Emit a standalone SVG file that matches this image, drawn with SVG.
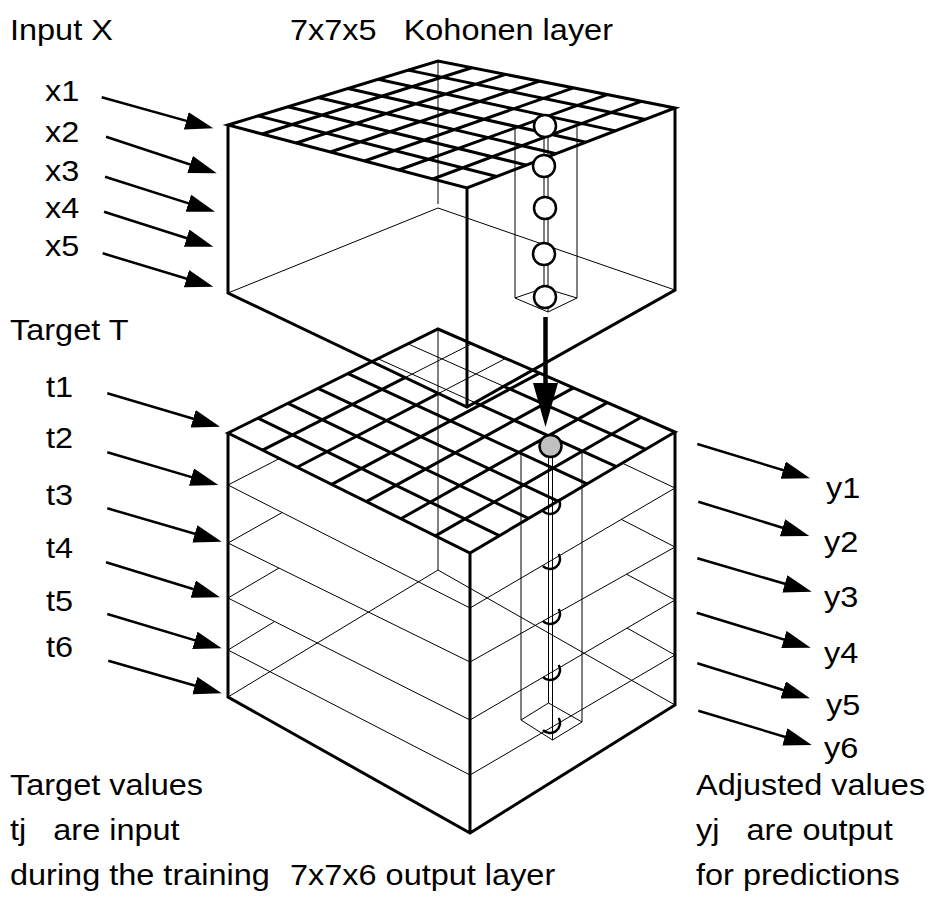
<svg xmlns="http://www.w3.org/2000/svg" width="936" height="914" viewBox="0 0 936 914">
<style>
.thick{fill:none;stroke:#000;stroke-width:3}
.thin{fill:none;stroke:#000;stroke-width:1}
.arr{fill:none;stroke:#000;stroke-width:2.5;marker-end:url(#ah)}
.neuron{fill:#fff;stroke:#000;stroke-width:2.5}
.win{fill:#c0c0c0;stroke:#000;stroke-width:2.5}
.arc{fill:none;stroke:#000;stroke-width:2.5}
text{font-family:"Liberation Sans",Arial,sans-serif;font-size:29px;fill:#000;white-space:pre}
</style>
<defs>
<marker id="ah" markerUnits="userSpaceOnUse" viewBox="0 0 30 20" markerWidth="30" markerHeight="20" refX="16" refY="9" orient="auto">
<path d="M0,0 L28,9 L0,18 Z" fill="#000"/>
</marker>
<clipPath id="front"><path d="M0,293 L228,293 L467,407 L675,290 L936,290 L936,914 L0,914 Z"/></clipPath>
<path id="gbot" d="M258,418.14 L499.29,535.71 M288,403.29 L528.57,518.43 M318,388.43 L557.86,501.14 M348,373.57 L587.14,483.86 M378,358.71 L616.43,466.57 M408,343.86 L645.71,449.29 M262.57,450.14 L471.86,343.71 M297.14,467.29 L505.71,358.43 M331.71,484.43 L539.57,373.14 M366.29,501.57 L573.43,387.86 M400.86,518.71 L607.29,402.57 M435.43,535.86 L641.14,417.29"/>
</defs>
<rect width="936" height="914" fill="#fff"/>

<g id="output-layer">
<path class="thin" d="M438,329 V570 M228,697 L438,570 L675,705"/>
<path class="thin" d="M279.5,458.5 L228,485 L470,608 L675,488 L622,463"/>
<path class="thin" d="M282,512.6 L228,543 L470,662 L675,547 L621.4,519.4"/>
<path class="thin" d="M279,568 L228,598 L470,720 L675,600 L626.5,574.2"/>
<path class="thin" d="M274.7,621.5 L228,650 L470,775 L675,655 L627,628"/>
<use href="#gbot" class="thin"/>
<use href="#gbot" class="thick" clip-path="url(#front)"/>
<path class="thick" d="M228,433 L438,329 L675,432 L470,553 Z M228,433 V697 L470,833 L675,705 V432 M470,553 V833"/>
<path class="thin" d="M521,452 V720 M582,450 V722 M548.5,457 V703 M552.5,457 V740 M521,720 L548.5,703 L582,722 L552.5,740 Z"/>
<path class="arc" d="M558.66,499 A10,10 0 0 1 542.93,511.07 M558.66,554 A10,10 0 0 1 542.93,566.07 M558.66,609 A10,10 0 0 1 542.93,621.07 M558.66,665 A10,10 0 0 1 542.93,677.07 M558.66,718 A10,10 0 0 1 542.93,730.07"/>
<circle class="win" cx="550.5" cy="446" r="11"/>
</g>

<g id="kohonen-layer">
<path class="thin" d="M438,61 V204 M228,293 L438,208 L675,290"/>
<path class="thick" d="M258,115.86 L496.71,176.57 M288,106.71 L526.43,165.14 M318,97.57 L556.14,153.71 M348,88.43 L585.86,142.29 M378,79.29 L615.57,130.86 M408,70.14 L645.29,119.43 M262.14,134 L471.86,67.71 M296.29,143 L505.71,74.43 M330.43,152 L539.57,81.14 M364.57,161 L573.43,87.86 M398.71,170 L607.29,94.57 M432.86,179 L641.14,101.29"/>
<path class="thick" d="M228,125 L438,61 L675,108 L467,188 Z M228,125 V293 L467,407 L675,290 V108 M467,188 V407"/>
<path class="thin" d="M515,128 V298 M577,127 V298 M544,137 V288 M548,137 V312 M515,298 L544,288 L577,298 L548,312 Z"/>
<circle class="neuron" cx="545" cy="126" r="11"/>
<circle class="neuron" cx="544" cy="166" r="11"/>
<circle class="neuron" cx="545" cy="208" r="11"/>
<circle class="neuron" cx="544" cy="254" r="11"/>
<circle class="neuron" cx="545" cy="297" r="11"/>
</g>

<g id="connectors">
<path class="arr" d="M101.7,97.3 L201.7,125.1"/>
<path class="arr" d="M106,136.7 L205.3,169.5"/>
<path class="arr" d="M105,176.7 L203.6,208.1"/>
<path class="arr" d="M104,211.7 L201.9,243"/>
<path class="arr" d="M102.7,253.3 L201.8,283.2"/>
<path class="arr" d="M107.3,393.3 L208.5,423.3"/>
<path class="arr" d="M107.3,452.3 L206.8,481.6"/>
<path class="arr" d="M107.3,508.3 L210.2,538.3"/>
<path class="arr" d="M106,562.3 L208.5,593.8"/>
<path class="arr" d="M107.3,614 L210.2,644.9"/>
<path class="arr" d="M108.3,660.7 L210.2,690"/>
<path class="arr" d="M697.3,444 L798.5,474.8"/>
<path class="arr" d="M698.3,501.7 L797.8,532.5"/>
<path class="arr" d="M697.3,558.3 L800.2,588.3"/>
<path class="arr" d="M696.7,612.7 L799.2,644.2"/>
<path class="arr" d="M697.3,663.3 L798.5,694.7"/>
<path class="arr" d="M698.3,710.7 L800.2,741.5"/>
<path d="M545.5,317 V386" stroke="#000" stroke-width="4.5" fill="none"/>
<path d="M533,383 L558,383 L545.5,427 Z" fill="#000"/>
</g>

<g id="labels">
<text transform="translate(10,40) scale(1.12,1)">Input X</text>
<text transform="translate(290,40) scale(1.12,1)">7x7x5   Kohonen layer</text>
<text transform="translate(45,101) scale(1.12,1)">x1</text>
<text transform="translate(45,142) scale(1.12,1)">x2</text>
<text transform="translate(45,181) scale(1.12,1)">x3</text>
<text transform="translate(45,218) scale(1.12,1)">x4</text>
<text transform="translate(45,256) scale(1.12,1)">x5</text>
<text transform="translate(10,340) scale(1.12,1)">Target T</text>
<text transform="translate(46,397) scale(1.12,1)">t1</text>
<text transform="translate(46,448) scale(1.12,1)">t2</text>
<text transform="translate(46,505) scale(1.12,1)">t3</text>
<text transform="translate(46,558) scale(1.12,1)">t4</text>
<text transform="translate(46,611) scale(1.12,1)">t5</text>
<text transform="translate(46,657) scale(1.12,1)">t6</text>
<text transform="translate(826,498) scale(1.12,1)">y1</text>
<text transform="translate(824,552) scale(1.12,1)">y2</text>
<text transform="translate(824,607) scale(1.12,1)">y3</text>
<text transform="translate(824,663) scale(1.12,1)">y4</text>
<text transform="translate(826,715) scale(1.12,1)">y5</text>
<text transform="translate(824,758) scale(1.12,1)">y6</text>
<text transform="translate(10,795) scale(1.12,1)">Target values</text>
<text transform="translate(10,840) scale(1.12,1)">tj   are input</text>
<text transform="translate(10,885) scale(1.12,1)">during the training</text>
<text transform="translate(290,885) scale(1.12,1)">7x7x6 output layer</text>
<text transform="translate(696,795) scale(1.12,1)">Adjusted values</text>
<text transform="translate(696,840) scale(1.12,1)">yj   are output</text>
<text transform="translate(696,885) scale(1.12,1)">for predictions</text>
</g>
</svg>
